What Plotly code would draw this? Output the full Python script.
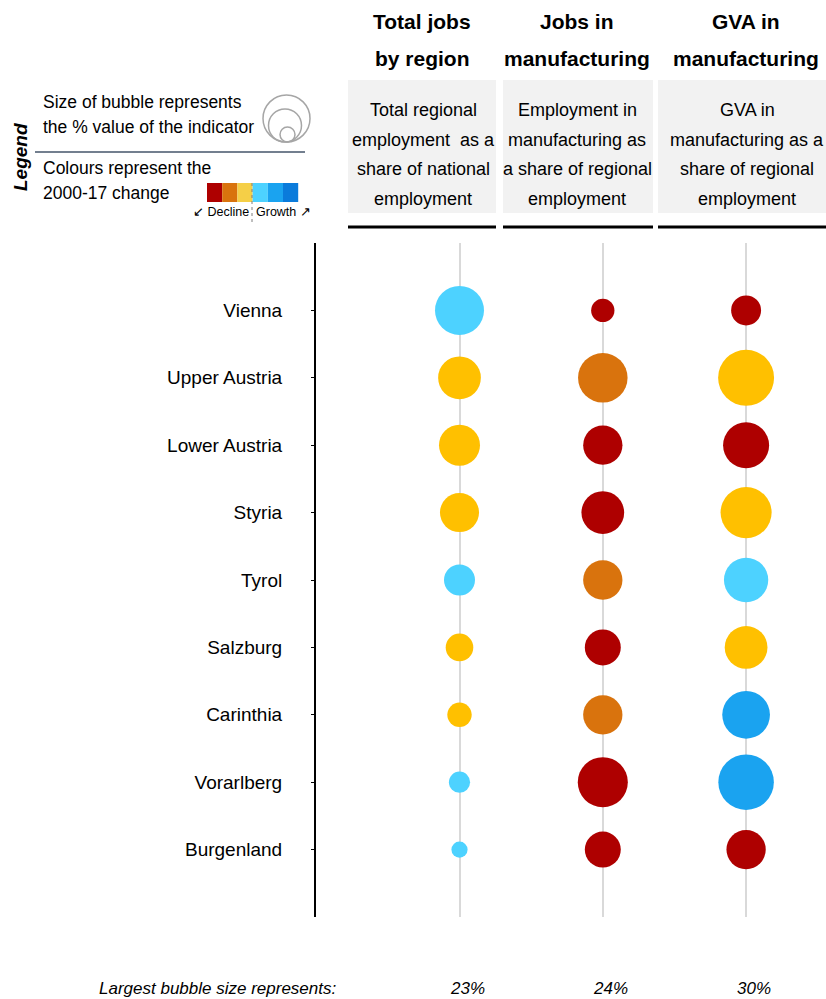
"""Bubble grid: regional jobs and manufacturing indicators, Austria."""

import plotly.graph_objects as go

W, H = 826, 999

regions = ["Vienna", "Upper Austria", "Lower Austria", "Styria", "Tyrol",
           "Salzburg", "Carinthia", "Vorarlberg", "Burgenland"]

# % value of each indicator (bubble area)
total_jobs = [23, 17.5, 16.1, 14.6, 9.2, 7.3, 5.7, 4.3, 2.5]
manuf_jobs = [5.2, 23.5, 14.8, 17.5, 14.8, 12.4, 14.8, 24, 12.4]
manuf_gva = [8.6, 30, 20.3, 25, 18.8, 17.5, 21.8, 29.5, 14.8]

# 2000-17 change class: -3..-1 decline, 1..3 growth
total_jobs_chg = [1, -1, -1, -1, 1, -1, -1, 1, 1]
manuf_jobs_chg = [-3, -2, -3, -3, -2, -3, -2, -3, -3]
manuf_gva_chg = [-3, -1, -3, -1, 1, -1, 2, 2, -3]

largest = ["23%", "24%", "30%"]

CHANGE_COLORS = {-3: "#AE0000", -2: "#D9730D", -1: "#FFC000",
                 1: "#4DD2FF", 2: "#1AA3F0", 3: "#0A7BDB"}
SWATCHES = ["#AE0000", "#D9730D", "#F5CF47", "#4DD2FF", "#1AA3F0", "#0A7BDB"]

SANS = "Liberation Sans, Arial"


def px(x, y):
    """Pixel position -> paper coords (figure margins are zero)."""
    return x / W, 1 - y / H


fig = go.Figure()

series = [(total_jobs, total_jobs_chg), (manuf_jobs, manuf_jobs_chg),
          (manuf_gva, manuf_gva_chg)]
for col, (vals, chg) in enumerate(series):
    fig.add_trace(go.Scatter(
        x=[col] * len(regions),
        y=list(range(1, len(regions) + 1)),
        mode="markers",
        marker=dict(size=vals, sizemode="area", sizeref=2 * 23 / 49 ** 2,
                    color=[CHANGE_COLORS[c] for c in chg],
                    line=dict(width=0), opacity=1),
        hoverinfo="skip",
        showlegend=False,
    ))

shapes = []
annotations = []


def text(x, y, s, size, family=SANS, bold=False, italic=False,
         anchor="center", angle=0):
    if bold:
        s = "<b>" + s + "</b>"
    if italic:
        s = "<i>" + s + "</i>"
    xp, yp = px(x, y)
    annotations.append(dict(
        x=xp, y=yp, xref="paper", yref="paper", text=s, showarrow=False,
        xanchor=anchor, yanchor="middle", textangle=angle,
        font=dict(family=family, size=size, color="#000000"),
    ))


def rect(x0, y0, x1, y1, fill):
    a0, b0 = px(x0, y0)
    a1, b1 = px(x1, y1)
    shapes.append(dict(
        type="rect", xref="paper", yref="paper", x0=a0, y0=b1, x1=a1, y1=b0,
        fillcolor=fill, line=dict(width=0), layer="below",
    ))


def hline(x0, x1, y, color, width, dash="solid"):
    a0, b = px(x0, y)
    a1, _ = px(x1, y)
    shapes.append(dict(type="line", xref="paper", yref="paper", x0=a0, x1=a1,
                       y0=b, y1=b, line=dict(color=color, width=width,
                                             dash=dash)))


# column headers
headers = [("Total jobs", "by region"), ("Jobs in", "manufacturing"),
           ("GVA in", "manufacturing")]
header_x = [422, 577, 746]
boxes = [(348, 496), (503, 653), (658, 826)]
box_text = [
    ["Total regional", "employment  as a", "share of national", "employment"],
    ["Employment in", "manufacturing as", "a share of regional", "employment"],
    ["GVA in", "manufacturing as a", "share of regional", "employment"],
]
box_text_x = [423, 577, 747]
for i in range(3):
    text(header_x[i], 22, headers[i][0], 21, bold=True)
    text(header_x[i], 58, headers[i][1], 21, bold=True)
    rect(boxes[i][0], 80, boxes[i][1], 213, "#F2F2F2")
    hline(boxes[i][0], boxes[i][1], 227, "#000000", 3)
    for j, line in enumerate(box_text[i]):
        text(box_text_x[i], 110 + 29.5 * j, line, 18)

# legend block
text(20, 157, "Legend", 19, bold=True, italic=True, angle=-90)
text(41, 102, "Size of bubble represents", 17.5, anchor="left")
text(41, 127, "the % value of the indicator", 17.5, anchor="left")
for cx, cy, r in [(286.5, 118.5, 23.5), (285, 125.5, 16.5), (287.5, 134.5, 7.5)]:
    a0, b0 = px(cx - r, cy - r)
    a1, b1 = px(cx + r, cy + r)
    shapes.append(dict(type="circle", xref="paper", yref="paper",
                       x0=a0, x1=a1, y0=b1, y1=b0, fillcolor="rgba(0,0,0,0)",
                       line=dict(color="#A6A6A6", width=1.5)))
hline(35, 305, 152, "#44546A", 1.5)
text(41, 168, "Colours represent the", 17.5, anchor="left")
text(41, 193, "2000-17 change", 17.5, anchor="left")
for k, c in enumerate(SWATCHES):
    rect(207 + 15.2 * k, 183, 207 + 15.2 * (k + 1), 202, c)
a, b0 = px(252, 183)
_, b1 = px(252, 222)
shapes.append(dict(type="line", xref="paper", yref="paper", x0=a, x1=a,
                   y0=b1, y1=b0, line=dict(color="#7F7F7F", width=1,
                                           dash="dot")))
text(251, 212, "\u2199 Decline", 12.5, anchor="right")
text(254, 212, "Growth \u2197", 12.5, anchor="left")

# footer
text(338, 988, "Largest bubble size represents:", 17, italic=True,
     anchor="right")
for i, lab in enumerate(largest):
    text(467 + 143.3 * i, 988, lab, 17, italic=True)

x0 = 316
col0 = 459.5
step = 143.3
fig.update_layout(
    width=W, height=H,
    margin=dict(l=0, r=0, t=0, b=0),
    paper_bgcolor="white", plot_bgcolor="white",
    shapes=shapes, annotations=annotations,
    xaxis=dict(domain=[x0 / W, 1],
               range=[(x0 - col0) / step, (W - col0) / step],
               tickvals=[0, 1, 2], showticklabels=False, ticks="",
               showgrid=True, gridcolor="#D9D9D9", gridwidth=2,
               zeroline=False, showline=False, fixedrange=True),
    yaxis=dict(domain=[1 - 917 / H, 1 - 243 / H],
               range=[len(regions) + 1, 0],
               tickvals=list(range(1, len(regions) + 1)),
               ticktext=regions, ticks="outside", ticklen=3,
               tickcolor="#000000", tickwidth=1,
               ticklabelstandoff=25,
               tickfont=dict(family=SANS, size=19, color="#000000"),
               showgrid=False, zeroline=False, showline=True,
               linecolor="#000000", linewidth=2, fixedrange=True),
)

# drop the default 8px body margin so the figure fills the window exactly
fig.write_html("out.html", config={"displayModeBar": False},
               post_script="document.body.style.margin = '0';")
